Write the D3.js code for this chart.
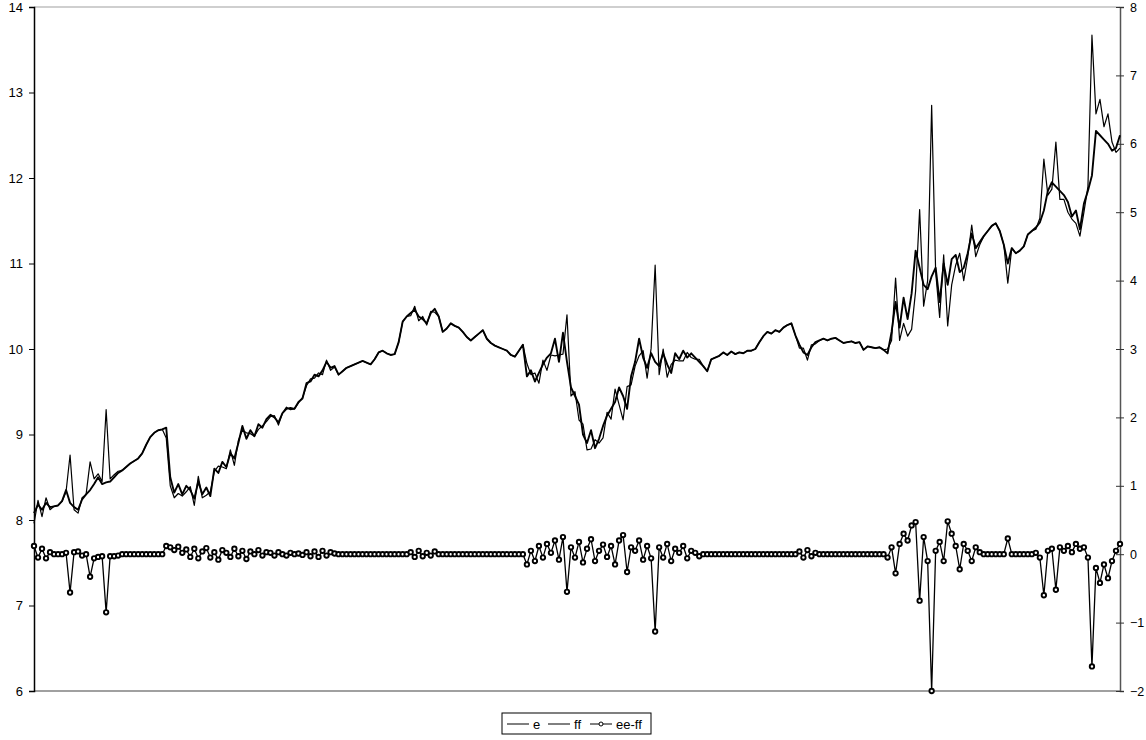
<!DOCTYPE html>
<html>
<head>
<meta charset="utf-8">
<script src="https://cdn.jsdelivr.net/npm/d3@7"></script>
<style>
  html, body { margin: 0; padding: 0; background: #fff; }
  svg { display: block; font-family: "Liberation Sans", Arial, sans-serif; }
</style>
</head>
<body>
<svg id="chart" width="1146" height="740"></svg>
<script>
// Series names as shown in the legend
const seriesNames = ["e", "ff", "ee-ff"];

// e: primary series (left axis)
const eValues = [
  8.08, 8.18, 8.12, 8.2, 8.15, 8.16, 8.17, 8.22, 8.35, 8.2,
  8.15, 8.12, 8.24, 8.3, 8.35, 8.42, 8.5, 8.42, 8.44, 8.45,
  8.5, 8.55, 8.58, 8.62, 8.66, 8.69, 8.72, 8.78, 8.88, 8.97,
  9.02, 9.05, 9.06, 9.08, 8.5, 8.32, 8.42, 8.3, 8.4, 8.35,
  8.25, 8.45, 8.3, 8.38, 8.28, 8.6, 8.55, 8.68, 8.62, 8.78,
  8.72, 8.9, 9.1, 8.95, 9.05, 8.98, 9.12, 9.08, 9.18, 9.23,
  9.2, 9.14, 9.25, 9.3, 9.31, 9.3, 9.38, 9.42, 9.6, 9.62,
  9.7, 9.68, 9.75, 9.85, 9.78, 9.8, 9.7, 9.74, 9.78, 9.8,
  9.82, 9.84, 9.86, 9.84, 9.82, 9.88, 9.96, 9.98, 9.95, 9.93,
  9.94, 10.08, 10.32, 10.38, 10.42, 10.46, 10.38, 10.35, 10.3, 10.42,
  10.47, 10.38, 10.2, 10.24, 10.3, 10.27, 10.25, 10.2, 10.14, 10.1,
  10.14, 10.18, 10.22, 10.12, 10.07, 10.04, 10.02, 10.0, 9.98, 9.93,
  9.91, 9.98, 10.05, 9.68, 9.75, 9.62, 9.72, 9.82, 9.9, 9.95,
  10.12, 9.85, 10.19, 9.85, 9.55, 9.45, 9.35, 9.0, 8.9, 9.05,
  8.84, 8.95, 9.1, 9.22, 9.3, 9.38, 9.55, 9.45, 9.3, 9.68,
  9.85, 10.12, 9.9, 9.78, 9.95, 9.85, 9.8, 9.95, 9.82, 9.72,
  9.95, 9.88, 9.98, 9.9, 9.95, 9.9, 9.85, 9.8, 9.74, 9.88,
  9.9, 9.92, 9.96, 9.93, 9.97, 9.94, 9.96, 9.95, 9.98, 9.98,
  10.0, 10.08, 10.15, 10.2, 10.18, 10.22, 10.2, 10.25, 10.28, 10.3,
  10.16, 10.05, 9.96, 9.93, 10.02, 10.08, 10.1, 10.12, 10.1, 10.12,
  10.13, 10.1, 10.07, 10.08, 10.09, 10.07, 10.08, 9.99, 10.03, 10.02,
  10.01, 10.02, 9.99, 9.95, 10.2, 10.55, 10.25, 10.6, 10.35, 10.65,
  11.15, 10.95, 10.75, 10.7, 10.85, 10.95, 10.55, 11.0, 10.75, 11.05,
  11.1, 10.9, 10.95, 11.12, 11.35, 11.18, 11.25, 11.32, 11.38, 11.44,
  11.47, 11.38, 11.22, 11.0, 11.18, 11.12, 11.15, 11.2, 11.34, 11.38,
  11.42, 11.48, 11.62, 11.85, 11.95, 11.9, 11.85, 11.8, 11.72, 11.55,
  11.62, 11.4, 11.7, 11.85, 12.03, 12.55, 12.5, 12.45, 12.4, 12.32,
  12.35, 12.5
];

// ee-ff: difference series (right axis)
const diffValues = [
  0.12, -0.05, 0.08, -0.06, 0.03, 0, 0, 0, 0.02, -0.56,
  0.03, 0.04, -0.02, 0, -0.33, -0.06, -0.04, -0.03, -0.85, -0.03,
  -0.03, -0.02, 0, 0, 0, 0, 0, 0, 0, 0,
  0, 0, 0, 0.12, 0.1, 0.06, 0.11, 0.02, 0.07, -0.04,
  0.08, -0.06, 0.04, 0.09, -0.05, 0.03, -0.08, 0.06, 0.02, -0.04,
  0.08, -0.03, 0.05, -0.07, 0.04, 0, 0.06, -0.02, 0.03, 0.02,
  -0.02, 0.03, 0, -0.02, 0.02, 0, 0.01, -0.01, 0.03, -0.03,
  0.04, -0.04, 0.05, -0.02, 0.03, 0.01, 0, 0, 0, 0,
  0, 0, 0, 0, 0, 0, 0, 0, 0, 0,
  0, 0, 0, 0, 0.03, -0.04, 0.05, -0.03, 0.02, -0.02,
  0.04, 0, 0, 0, 0, 0, 0, 0, 0, 0,
  0, 0, 0, 0, 0, 0, 0, 0, 0, 0,
  0, 0, 0, -0.15, 0.05, -0.1, 0.12, -0.05, 0.15, 0.02,
  0.2, -0.08, 0.25, -0.55, 0.1, -0.05, 0.18, -0.12, 0.08, 0.22,
  -0.1, 0.05, 0.14, -0.04, 0.12, -0.15, 0.2, 0.28, -0.26, 0.1,
  0.05, 0.2, -0.08, 0.12, -0.06, -1.13, 0.1, -0.05, 0.15, -0.1,
  0.08, 0.02, 0.12, -0.06, 0.05, 0.02, -0.03, 0, 0, 0,
  0, 0, 0, 0, 0, 0, 0, 0, 0, 0,
  0, 0, 0, 0, 0, 0, 0, 0, 0, 0,
  0, 0.04, -0.05, 0.06, -0.03, 0.02, 0, 0, 0, 0,
  0, 0, 0, 0, 0, 0, 0, 0, 0, 0,
  0, 0, 0, -0.05, 0.1, -0.28, 0.15, 0.3, 0.2, 0.42,
  0.47, -0.68, 0.25, -0.1, -2.0, 0.05, 0.18, -0.1, 0.48, 0.3,
  0.12, -0.22, 0.15, 0.05, -0.1, 0.1, 0.03, 0, 0, 0,
  0, 0, 0, 0.23, 0, 0, 0, 0, 0, 0,
  0.02, -0.05, -0.6, 0.05, 0.08, -0.52, 0.1, 0.05, 0.12, 0.03,
  0.15, 0.08, 0.1, -0.05, -1.64, -0.2, -0.42, -0.15, -0.35, -0.1,
  0.05, 0.15
];

// ff follows from e and the difference series
const ffValues = eValues.map((v, i) => +(v - diffValues[i]).toFixed(2));

// Axis tick labels
const leftTicks = [6, 7, 8, 9, 10, 11, 12, 13, 14];
const rightTicks = [-2, -1, 0, 1, 2, 3, 4, 5, 6, 7, 8];

const svg = d3.select("#chart");
const plot = { left: 34, right: 1120, top: 7, bottom: 691 };

const x = d3.scaleLinear().domain([0, eValues.length - 1]).range([plot.left, plot.right]);
const yL = d3.scaleLinear().domain([6, 14]).range([plot.bottom, plot.top]);
const yR = d3.scaleLinear().domain([-2, 8]).range([plot.bottom, plot.top]);

// Plot frame: grey top and bottom edges
svg.append("line").attr("x1", plot.left).attr("x2", plot.right)
  .attr("y1", plot.top).attr("y2", plot.top).attr("stroke", "#a0a0a0").attr("stroke-width", 1.2);
svg.append("line").attr("x1", plot.left).attr("x2", plot.right)
  .attr("y1", plot.bottom).attr("y2", plot.bottom).attr("stroke", "#808080").attr("stroke-width", 1.5);

// Left axis
const leftAxis = svg.append("g").attr("transform", `translate(${plot.left},0)`)
  .call(d3.axisLeft(yL).tickValues(leftTicks).tickFormat(d3.format("d")).tickSizeOuter(0).tickSize(5).tickPadding(6));
leftAxis.select(".domain").attr("stroke", "#000").attr("stroke-width", 1.5);
leftAxis.selectAll(".tick line").attr("stroke", "#000");
leftAxis.selectAll("text").attr("font-size", 13).attr("fill", "#000")
  .attr("font-family", "Liberation Sans, Arial, sans-serif");

// Right axis (ticks cross the axis line)
const rightAxis = svg.append("g").attr("transform", `translate(${plot.right},0)`)
  .call(d3.axisRight(yR).tickValues(rightTicks).tickFormat(d3.format("d")).tickSizeOuter(0).tickSize(4).tickPadding(6));
rightAxis.select(".domain").attr("stroke", "#555").attr("stroke-width", 1.5);
rightAxis.selectAll(".tick line").attr("stroke", "#333").attr("x1", -4).attr("x2", 4);
rightAxis.selectAll("text").attr("font-size", 12.5).attr("fill", "#000")
  .attr("font-family", "Liberation Sans, Arial, sans-serif");

const lineL = d3.line().x((d, i) => x(i)).y(d => yL(d));
const lineR = d3.line().x((d, i) => x(i)).y(d => yR(d));

// e and ff on the left axis
svg.append("path").datum(ffValues).attr("d", lineL)
  .attr("fill", "none").attr("stroke", "#000").attr("stroke-width", 1.2).attr("stroke-linejoin", "round");
svg.append("path").datum(eValues).attr("d", lineL)
  .attr("fill", "none").attr("stroke", "#000").attr("stroke-width", 1.9).attr("stroke-linejoin", "round");

// ee-ff on the right axis, with hollow markers packed into a dense band
svg.append("path").datum(diffValues).attr("d", lineR)
  .attr("fill", "none").attr("stroke", "#000").attr("stroke-width", 1.3);
svg.append("g").selectAll("circle").data(diffValues).join("circle")
  .attr("cx", (d, i) => x(i)).attr("cy", d => yR(d)).attr("r", 2.2)
  .attr("fill", "#fff").attr("stroke", "#000").attr("stroke-width", 1.9);

// Legend
const legend = svg.append("g").attr("transform", "translate(502,713)");
legend.append("rect").attr("width", 149).attr("height", 21)
  .attr("fill", "#fff").attr("stroke", "#000").attr("stroke-width", 1);
const items = [
  { name: seriesNames[0], x0: 5, marker: false },
  { name: seriesNames[1], x0: 46, marker: false },
  { name: seriesNames[2], x0: 88, marker: true }
];
items.forEach(it => {
  legend.append("line").attr("x1", it.x0).attr("x2", it.x0 + 22)
    .attr("y1", 11).attr("y2", 11).attr("stroke", "#000").attr("stroke-width", 1);
  if (it.marker) {
    legend.append("circle").attr("cx", it.x0 + 11).attr("cy", 11).attr("r", 2)
      .attr("fill", "#fff").attr("stroke", "#000").attr("stroke-width", 1);
  }
  legend.append("text").attr("x", it.x0 + 26).attr("y", 16)
    .attr("font-size", 13).attr("fill", "#000").text(it.name);
});
</script>
</body>
</html>
